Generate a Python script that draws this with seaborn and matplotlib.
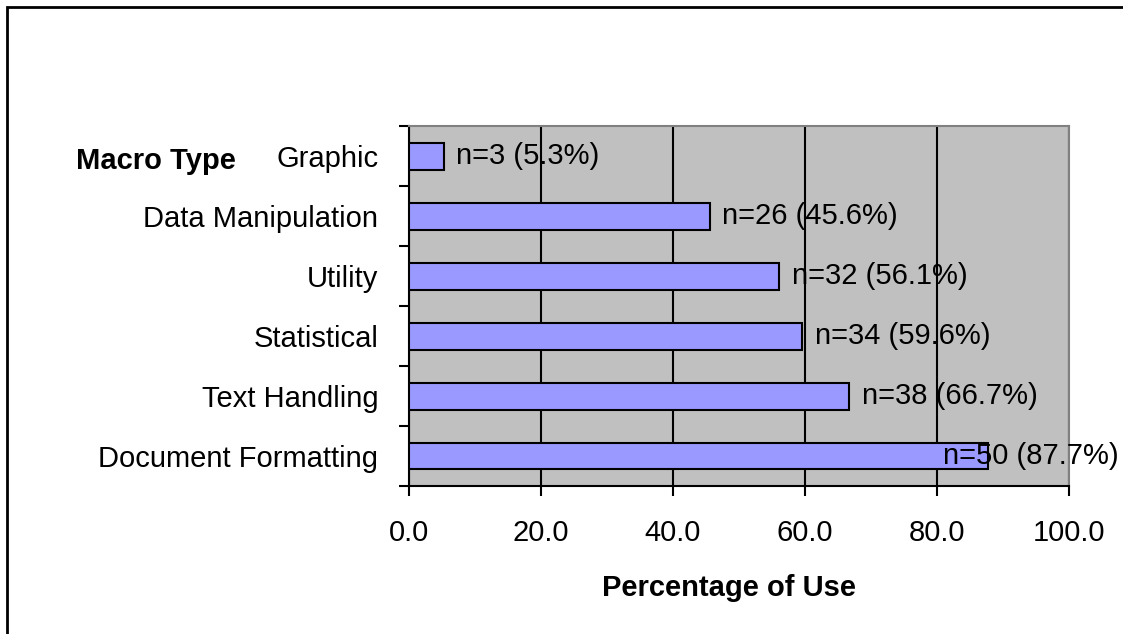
import numpy as np
import pandas as pd
import matplotlib
matplotlib.use("Agg")
import matplotlib.pyplot as plt
from matplotlib.patches import Rectangle
import seaborn as sns

# data
macro_types = ["Graphic", "Data Manipulation", "Utility", "Statistical",
               "Text Handling", "Document Formatting"]
counts = [3, 26, 32, 34, 38, 50]
percents = [5.3, 45.6, 56.1, 59.6, 66.7, 87.7]
x_ticks = [0, 20, 40, 60, 80, 100]

BAR_COLOR = "#9999FF"
PLOT_BG = "#C0C0C0"
FS = 21

sns.set_style("white")
plt.rcParams["font.family"] = ["Liberation Sans", "DejaVu Sans"]
plt.rcParams["text.color"] = "black"
plt.rcParams["xtick.color"] = "black"
plt.rcParams["ytick.color"] = "black"
plt.rcParams["axes.labelcolor"] = "black"

df = pd.DataFrame({"macro_type": macro_types, "pct": percents, "n": counts})

fig = plt.figure(figsize=(11.23, 6.34), dpi=100)
ax = fig.add_axes([409 / 1123, 1 - 486 / 634, 660 / 1123, 360 / 634])

sns.barplot(data=df, x="pct", y="macro_type", order=macro_types, orient="h",
            color=BAR_COLOR, edgecolor="black", linewidth=1.5, width=0.45,
            saturation=1, ax=ax, zorder=3)

ax.set_facecolor(PLOT_BG)
ax.set_xlim(0, 100)
ax.set_ylim(len(macro_types) - 0.5, -0.5)
ax.set_xticks(x_ticks)
ax.set_xticklabels([f"{v:.1f}" for v in x_ticks], fontsize=FS)
ax.set_axisbelow(True)
ax.grid(axis="x", color="black", linewidth=1.5)

# category labels at bar centres, tick marks at boundaries
ax.set_yticks(np.arange(len(macro_types)))
ax.set_yticklabels(macro_types, fontsize=FS)
ax.set_yticks(np.arange(len(macro_types) + 1) - 0.5, minor=True)
ax.tick_params(axis="y", which="major", length=0, pad=22)
ax.tick_params(axis="y", which="minor", length=7, width=1.5, color="black", left=True)
ax.tick_params(axis="x", which="major", length=7, width=1.5, color="black",
               bottom=True, pad=17)

for side in ["left", "bottom"]:
    ax.spines[side].set_color("black")
    ax.spines[side].set_linewidth(1.5)
for side in ["top", "right"]:
    ax.spines[side].set_color("#808080")
    ax.spines[side].set_linewidth(1.5)

ax.set_ylabel("")
ax.set_xlabel("Percentage of Use", fontsize=FS, fontweight="bold")
ax.xaxis.set_label_coords(0.485, -0.245)

# value labels; the last one is pulled back inside the chart like Excel does
for i, (n, p) in enumerate(zip(counts, percents)):
    off = 9 if p < 80 else -32
    ax.annotate(f"n={n} ({p}%)", xy=(p, i), xytext=(off, 0),
                textcoords="offset points", va="center", ha="left",
                fontsize=FS, zorder=5, annotation_clip=False)

fig.text(76 / 1123, 1 - 161 / 634, "Macro Type", fontsize=FS,
         fontweight="bold", va="center", ha="left")

fig.patches.append(Rectangle((7 / 1123, -0.1), 1.2, 1.1 - 7 / 634,
                             transform=fig.transFigure, fill=False,
                             edgecolor="black", linewidth=2))

fig.savefig("out.png", dpi=100)
